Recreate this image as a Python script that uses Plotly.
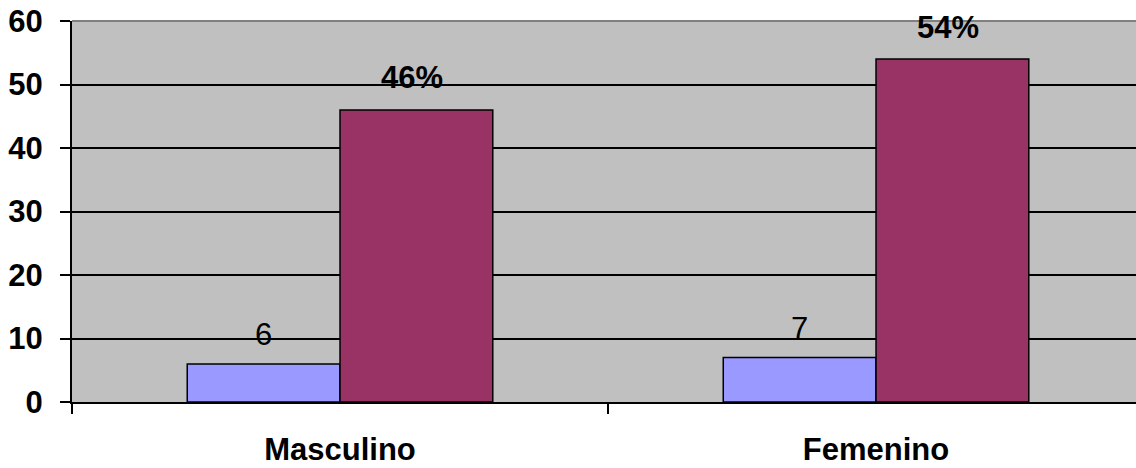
import plotly.graph_objects as go

# Chart data
categories = ["Masculino", "Femenino"]
counts = [6, 7]
percents = [46, 54]
percent_labels = ["46%", "54%"]

BAR_GAP = 0.43
half_bar = (1 - BAR_GAP) / 4  # centre offset of each bar inside its group
FONT = "Liberation Sans, Arial"

fig = go.Figure()
fig.add_bar(x=categories, y=counts, marker=dict(color="#9999FF", line=dict(color="black", width=1.5)),
            showlegend=False)
fig.add_bar(x=categories, y=percents, marker=dict(color="#993366", line=dict(color="black", width=1.5)),
            showlegend=False)

annotations = []
for i, (c, p, pl) in enumerate(zip(counts, percents, percent_labels)):
    annotations.append(dict(x=i - half_bar, y=c, xref="x", yref="y", text=str(c), showarrow=False,
                            yanchor="middle", yshift=29,
                            font=dict(family=FONT, size=31, color="black")))
    annotations.append(dict(x=i + half_bar, y=p, xref="x", yref="y", text=f"<b>{pl}</b>", showarrow=False,
                            yanchor="middle", yshift=32, xshift=-4,
                            font=dict(family=FONT, size=31, color="black")))

fig.update_layout(
    width=1136, height=468,
    margin=dict(l=72, r=0, t=21, b=66),
    paper_bgcolor="white",
    plot_bgcolor="#C0C0C0",
    barmode="group",
    bargap=BAR_GAP,
    bargroupgap=0,
    annotations=annotations,
    font=dict(family=FONT, color="black"),
    shapes=[dict(type="line", xref="x domain", yref="y domain", x0=0, x1=1, y0=1, y1=1,
                 line=dict(color="#808080", width=2), layer="above")],
)

fig.update_xaxes(
    type="category",
    range=[-0.5, 1.485],
    tickson="boundaries",
    ticks="outside", ticklen=10, tickwidth=2, tickcolor="black",
    showline=True, linecolor="black", linewidth=2,
    showgrid=False,
    tickfont=dict(size=31, family=FONT, weight="bold"),
    ticklabelstandoff=19,
)
fig.update_yaxes(
    range=[0, 60], dtick=10,
    ticks="outside", ticklen=10, tickwidth=2, tickcolor="black",
    showline=True, linecolor="black", linewidth=2,
    showgrid=True, gridcolor="black", gridwidth=1.5,
    zeroline=False,
    tickfont=dict(size=31, family=FONT, weight="bold"),
    ticklabelstandoff=11,
)

fig.write_html("out.html")
